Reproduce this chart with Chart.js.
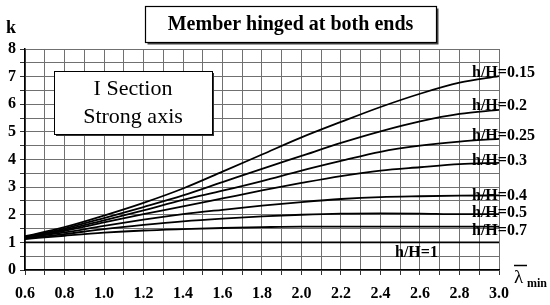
<!DOCTYPE html>
<html><head><meta charset="utf-8">
<script src="https://cdn.jsdelivr.net/npm/chart.js@4/dist/chart.umd.min.js"></script>
<style>html,body{margin:0;padding:0;background:#fff;}#wrap{width:550px;height:305px;position:relative;}canvas{display:block;}</style>
</head><body><div id="wrap"><canvas id="c" width="550" height="305"></canvas></div>
<script>
// ---- data ----
const lambdaValues = [0.6, 0.8, 1.0, 1.2, 1.4, 1.6, 1.8, 2.0, 2.2, 2.4, 2.6, 2.8, 3.0];
const kH015 = [1.22, 1.55, 1.97, 2.43, 2.95, 3.56, 4.18, 4.80, 5.36, 5.90, 6.38, 6.78, 7.02];
const kH020 = [1.20, 1.50, 1.88, 2.28, 2.70, 3.18, 3.66, 4.13, 4.60, 5.02, 5.38, 5.65, 5.80];
const kH025 = [1.19, 1.45, 1.80, 2.16, 2.54, 2.87, 3.22, 3.60, 3.95, 4.28, 4.50, 4.65, 4.75];
const kH030 = [1.18, 1.42, 1.72, 2.02, 2.30, 2.59, 2.88, 3.15, 3.40, 3.60, 3.72, 3.83, 3.88];
const kH040 = [1.16, 1.36, 1.60, 1.82, 2.02, 2.18, 2.33, 2.46, 2.57, 2.64, 2.67, 2.69, 2.70];
const kH050 = [1.14, 1.30, 1.48, 1.63, 1.76, 1.86, 1.94, 2.00, 2.04, 2.05, 2.04, 2.02, 2.02];
const kH070 = [1.12, 1.24, 1.35, 1.43, 1.48, 1.52, 1.55, 1.57, 1.57, 1.57, 1.57, 1.57, 1.57];
const kH100 = [1.00, 1.00, 1.00, 1.00, 1.00, 1.00, 1.00, 1.00, 1.00, 1.00, 1.00, 1.00, 1.00];
const seriesLabels = ['h/H=0.15', 'h/H=0.2', 'h/H=0.25', 'h/H=0.3', 'h/H=0.4', 'h/H=0.5', 'h/H=0.7', 'h/H=1'];
const seriesValues = [kH015, kH020, kH025, kH030, kH040, kH050, kH070, kH100];
const xTickLabels = ['0.6','0.8','1.0','1.2','1.4','1.6','1.8','2.0','2.2','2.4','2.6','2.8','3.0'];
const yTickLabels = ['0','1','2','3','4','5','6','7','8'];
const titleText = 'Member hinged at both ends';
const insetLines = ['I Section', 'Strong axis'];

// ---- style (not data) ----
const SERIF = '"Liberation Serif", "Times New Roman", serif';
// label placement nudges in pixels: [dx from right edge, dy from line end]
const labelNudge = [[-27,-3.5],[-27,-4],[-27,-3],[-27,-2],[-27,0],[-27,-1],[-27,4.5],[-104,10]];

const datasets = seriesValues.map((vals, i) => ({
  label: seriesLabels[i],
  data: vals.map((v, j) => ({x: lambdaValues[j], y: v})),
  borderColor: '#000',
  borderWidth: 1.8,
  pointRadius: 0,
  fill: false,
  cubicInterpolationMode: 'monotone',
  tension: 0.4
}));

const decor = {
  id: 'decor',
  afterDraw(chart) {
    const ctx = chart.ctx;
    const xs = chart.scales.x, ys = chart.scales.y;
    ctx.save();
    // series labels at line ends
    ctx.fillStyle = '#000';
    ctx.font = 'bold 16px ' + SERIF;
    ctx.textAlign = 'left';
    ctx.textBaseline = 'middle';
    seriesValues.forEach((vals, i) => {
      const last = vals.length - 1;
      const px = xs.getPixelForValue(lambdaValues[last]);
      const py = ys.getPixelForValue(vals[last]);
      ctx.fillText(seriesLabels[i], px + labelNudge[i][0], py + labelNudge[i][1]);
    });
    // title box
    const tb = {x: 145, y: 6, w: 291, h: 36};
    ctx.fillStyle = '#444';
    ctx.fillRect(tb.x + 2.5, tb.y + 2.5, tb.w, tb.h);
    ctx.fillStyle = '#fff';
    ctx.fillRect(tb.x, tb.y, tb.w, tb.h);
    ctx.strokeStyle = '#000';
    ctx.lineWidth = 1.2;
    ctx.strokeRect(tb.x + 0.5, tb.y + 0.5, tb.w, tb.h);
    ctx.fillStyle = '#000';
    ctx.font = 'bold 20px ' + SERIF;
    ctx.textAlign = 'center';
    ctx.fillText(titleText, tb.x + tb.w / 2, tb.y + tb.h / 2 + 1);
    // inset box
    const ib = {x: 54, y: 71, w: 158, h: 63};
    ctx.fillStyle = '#333';
    ctx.fillRect(ib.x + 2, ib.y + 2, ib.w, ib.h);
    ctx.fillStyle = '#fff';
    ctx.fillRect(ib.x, ib.y, ib.w, ib.h);
    ctx.strokeStyle = '#000';
    ctx.lineWidth = 1;
    ctx.strokeRect(ib.x + 0.5, ib.y + 0.5, ib.w, ib.h);
    ctx.fillStyle = '#000';
    ctx.font = '22px ' + SERIF;
    ctx.fillText(insetLines[0], ib.x + ib.w / 2, ib.y + 18);
    ctx.fillText(insetLines[1], ib.x + ib.w / 2, ib.y + 46);
    // axis name k
    ctx.font = 'bold 18px ' + SERIF;
    ctx.textAlign = 'left';
    ctx.textBaseline = 'alphabetic';
    ctx.fillText('k', 6, 33);
    // lambda_min with overbar
    ctx.font = '19px ' + SERIF;
    ctx.fillText('\u03BB', 514, 283);
    ctx.lineWidth = 1.5;
    ctx.beginPath();
    ctx.moveTo(514, 265.5);
    ctx.lineTo(527, 265.5);
    ctx.stroke();
    ctx.font = 'bold 12px ' + SERIF;
    ctx.fillText('min', 527, 287);
    ctx.restore();
  }
};

new Chart(document.getElementById('c'), {
  type: 'line',
  data: {datasets},
  options: {
    responsive: false,
    animation: false,
    devicePixelRatio: 1,
    layout: {padding: {top: 49, right: 51, left: 0, bottom: 0}},
    plugins: {legend: {display: false}, tooltip: {enabled: false}, title: {display: false}},
    scales: {
      x: {
        type: 'linear', min: 0.6, max: 3.0,
        afterFit(s) { s.height = 35; },
        ticks: {
          stepSize: 0.1, autoSkip: false, maxRotation: 0, minRotation: 0,
          padding: 9, color: '#000',
          font: {family: SERIF, size: 16, weight: 'bold'},
          callback(v) {
            const t = Math.round(v * 10);
            if (t % 2 !== 0) return '';
            const idx = lambdaValues.findIndex(l => Math.round(l * 10) === t);
            return idx >= 0 ? xTickLabels[idx] : '';
          }
        },
        grid: {color: '#707070', lineWidth: 1, tickLength: 5, tickColor: '#333'},
        border: {color: '#000', width: 1.5}
      },
      y: {
        type: 'linear', min: 0, max: 8,
        afterFit(s) { s.width = 25; },
        ticks: {
          stepSize: 0.5, autoSkip: false, padding: 4, color: '#000',
          font: {family: SERIF, size: 16, weight: 'bold'},
          callback(v) {
            if (Math.abs(v - Math.round(v)) > 1e-6) return '';
            return yTickLabels[Math.round(v)];
          }
        },
        grid: {color: '#707070', lineWidth: 1, tickLength: 5, tickColor: '#333'},
        border: {color: '#000', width: 1.5}
      }
    }
  },
  plugins: [decor]
});
</script>
</body></html>
